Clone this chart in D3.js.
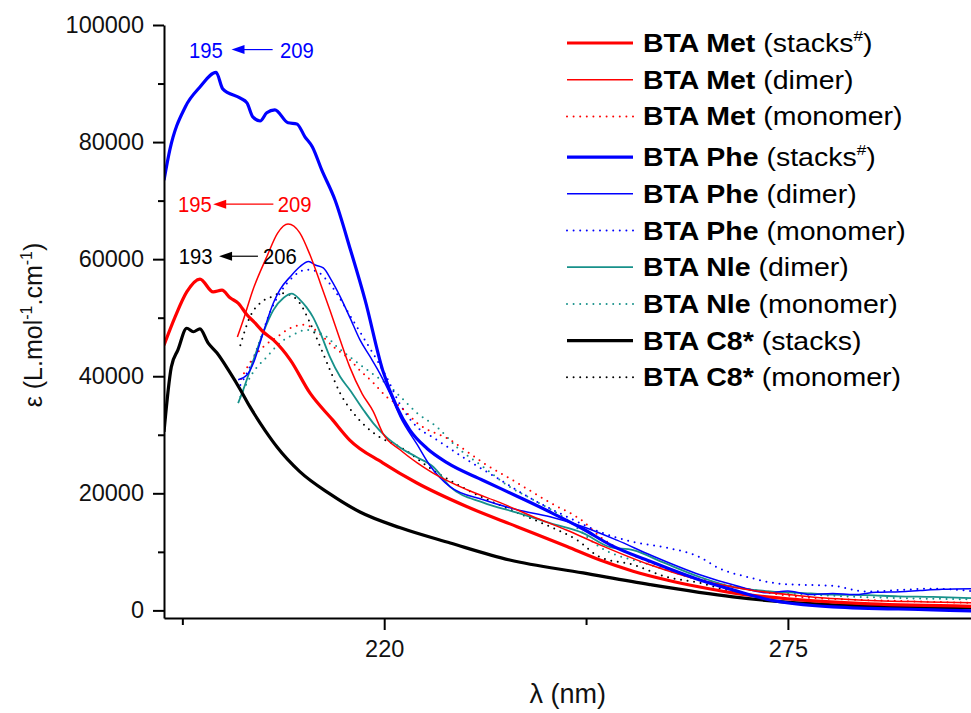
<!DOCTYPE html>
<html>
<head>
<meta charset="utf-8">
<script src="https://cdn.jsdelivr.net/npm/d3@7"></script>
<style>
  body { margin: 0; background: #fff; }
  svg text { font-family: "Liberation Sans", Arial, Helvetica, sans-serif; }
</style>
</head>
<body>
<svg id="chart" width="971" height="713"></svg>
<script>
// ---- Spectra: wavelength (nm) and molar absorptivity (L.mol-1.cm-1) ----
const metStacksNm  = [190, 191.5, 193.1, 194.9, 196.7, 197.9, 199.0, 200.1, 201.3, 202.4, 203.5, 204.9, 207.2, 209.9, 213.0, 215.3, 219.8, 224.4, 231.3, 238.1, 244.9, 249.4, 253.9, 258.5, 263.0, 267.5, 276.6, 286.2, 300];
const metStacksEps = [45300, 50100, 54400, 56600, 54400, 54700, 53400, 52500, 50500, 49100, 47600, 46200, 42800, 37100, 32500, 29100, 25200, 21800, 17700, 14300, 10900, 8600, 6700, 5200, 4000, 3000, 1800, 1100, 700];

const metDimerNm  = [200.0, 200.8, 202.1, 204.0, 205.5, 206.9, 208.5, 209.9, 211.3, 212.6, 214.0, 215.3, 217.0, 218.5, 219.8, 222.2, 224.5, 226.6, 231.3, 235.8, 240.3, 244.9, 249.4, 256.2, 263.0, 269.8, 276.6, 280, 284, 288, 292, 296, 300];
const metDimerEps = [46700, 49600, 54700, 60400, 64500, 66000, 64500, 60700, 55900, 51300, 46200, 41600, 37000, 34000, 30300, 27400, 25200, 23500, 20600, 18400, 16000, 13700, 11200, 7800, 5200, 3500, 2500, 2100, 1800, 1600, 1500, 1400, 1300];

const metMonoNm  = [200.1, 201.7, 203.5, 205.4, 207.2, 209.0, 210.3, 211.7, 213.1, 214.9, 216.7, 218.5, 220.3, 222.2, 224.5, 229.0, 233.5, 238.1, 242.6, 247.1, 249.4, 256.2, 263.0, 269.8, 276.6, 290.3, 300];
const metMonoEps = [38500, 42300, 45000, 46700, 48200, 48800, 48200, 46700, 45000, 43300, 41000, 38900, 36500, 34800, 32000, 29100, 25200, 21800, 18400, 15200, 12600, 8200, 5400, 3600, 2300, 1600, 1300];

const pheStacksNm  = [190, 190.8, 192.9, 194.9, 197.1, 198.0, 200.4, 201.3, 202.1, 203.1, 204.0, 205.1, 206.9, 208.1, 209.2, 210.2, 211.5, 213.3, 215.4, 217.4, 219.8, 221.7, 223.5, 225.8, 228.6, 233.5, 238.1, 242.6, 247.1, 250.8, 256.2, 263.0, 267.5, 272.1, 281.1, 294.8, 300];
const pheStacksEps = [73500, 78700, 86000, 89400, 91900, 89100, 87500, 86700, 84300, 83600, 85000, 85500, 83300, 83100, 80900, 79200, 75200, 70100, 61600, 53000, 41000, 34800, 30800, 27700, 25200, 22200, 19500, 16800, 13900, 11200, 8400, 5200, 3500, 1900, 600, 100, -100];

const pheDimerNm  = [200.1, 201.3, 202.2, 203.5, 204.9, 205.8, 207.2, 208.5, 209.7, 210.6, 211.7, 212.8, 214.0, 215.3, 216.7, 218.1, 219.4, 220.8, 222.2, 224.5, 226.2, 229.0, 233.5, 238.1, 242.6, 247.1, 251.7, 256.2, 263.0, 268.0, 272.2, 275.0, 278.0, 281.1, 284.0, 287.0, 290.3, 293.0, 296.0, 300];
const pheDimerEps = [39400, 40200, 42300, 47400, 52500, 54800, 57000, 58700, 59600, 59000, 58500, 56400, 53600, 50100, 46200, 43300, 40500, 37000, 33000, 28300, 24800, 21100, 18900, 17200, 16000, 14300, 12000, 9500, 6100, 4200, 3000, 3300, 2700, 2900, 2700, 3100, 3200, 3400, 3600, 3700];

const pheMonoNm  = [200.4, 201.7, 203.1, 204.4, 205.8, 207.6, 209.4, 210.8, 212.2, 213.5, 214.9, 216.3, 217.6, 219.0, 220.3, 222.2, 224.5, 226.6, 231.3, 235.8, 240.3, 244.9, 249.4, 253.9, 258.5, 263.0, 265.3, 269.8, 274.3, 281.1, 285.8, 290.3, 294.8, 300];
const pheMonoEps = [38500, 41600, 46200, 50800, 54200, 57000, 58200, 57900, 56400, 54200, 51300, 48400, 45700, 42800, 39900, 35100, 31300, 29600, 25700, 22300, 18900, 16000, 13400, 11700, 10700, 9100, 7400, 5600, 4500, 4200, 3200, 3500, 3700, 3300];

const nleDimerNm  = [200.1, 200.8, 202.2, 203.5, 204.9, 206.3, 207.4, 208.5, 209.4, 210.3, 211.3, 212.6, 214.0, 215.3, 217.2, 218.5, 220.3, 222.2, 224.4, 226.7, 229.0, 233.5, 238.1, 242.6, 247.1, 250.8, 253.9, 258.0, 263.0, 267.5, 272.0, 276.6, 281.0, 285.8, 290.0, 294.8, 300];
const nleDimerEps = [35400, 37700, 42800, 47400, 51300, 53400, 54100, 53100, 51800, 50100, 47400, 43300, 39900, 37700, 34200, 32000, 29600, 27800, 26200, 24500, 21100, 18400, 16700, 14900, 13200, 10800, 10300, 8200, 5700, 4000, 3300, 3000, 2700, 2600, 2400, 2300, 2100];

const nleMonoNm  = [200.4, 202.1, 204.0, 205.8, 207.6, 209.4, 210.8, 212.2, 213.6, 215.3, 217.1, 219.0, 220.8, 222.2, 224.5, 227.2, 229.9, 233.5, 237.1, 240.3, 244.9, 249.4, 256.2, 263.0, 272.2, 281.1, 290.3, 300];
const nleMonoEps = [36500, 40600, 43300, 45700, 47100, 47900, 47600, 46700, 45000, 43300, 41600, 39900, 38200, 36500, 33700, 31300, 27900, 24500, 21100, 18900, 15500, 10800, 7800, 5200, 3200, 2500, 2100, 1900];

const c8StacksNm  = [190, 191.0, 191.9, 193.1, 194.0, 194.9, 196.0, 197.2, 199.0, 200.4, 201.7, 203.1, 204.4, 205.4, 208.5, 212.6, 216.7, 222.2, 229.0, 237.1, 247.1, 256.2, 267.5, 281.1, 300];
const c8StacksEps = [30500, 41600, 44500, 48200, 47600, 48100, 45700, 44000, 40600, 37700, 34800, 32000, 29600, 27900, 23700, 19900, 16800, 14100, 11500, 8600, 6400, 4400, 2300, 940, 430];

const c8MonoNm  = [200.4, 201.7, 203.1, 204.7, 206.0, 207.6, 208.5, 209.9, 211.3, 212.6, 214.0, 215.8, 217.6, 219.4, 222.2, 226.6, 231.3, 238.1, 242.6, 246.3, 249.4, 253.9, 258.5, 263.0, 267.5, 276.6, 300];
const c8MonoEps = [45300, 50100, 52500, 53600, 54200, 53600, 52500, 49100, 45000, 41100, 37100, 33700, 31300, 29600, 27900, 24000, 20600, 16700, 14300, 12000, 9100, 7800, 5700, 4700, 3200, 1800, 600];

// Legend entries (in legend order)
const compounds = ["BTA Met", "BTA Met", "BTA Met", "BTA Phe", "BTA Phe", "BTA Phe", "BTA Nle", "BTA Nle", "BTA C8*", "BTA C8*"];
const states    = ["stacks", "dimer", "monomer", "stacks", "dimer", "monomer", "dimer", "monomer", "stacks", "monomer"];
const stateMarks = ["#", "", "", "#", "", "", "", "", "", ""];

// Peak-shift annotations: from (dimer/monomer) -> to (stacks)
const shiftFrom = ["209", "209", "206"];
const shiftTo   = ["195", "195", "193"];

// Axis ticks
const yMajorTicks = [0, 20000, 40000, 60000, 80000, 100000];
const yMinorTicks = [10000, 30000, 50000, 70000, 90000];
const xMajorTicks = [220, 275];
const xMinorTicks = [192.5, 247.5];

// ---- Drawing ----
const RED = "#ff0000", BLUE = "#0000ff", TEAL = "#17918a", BLACK = "#000000";
const styles = [
  { color: RED,   width: 3.2, dotted: false },
  { color: RED,   width: 1.5, dotted: false },
  { color: RED,   width: 2.0, dotted: true  },
  { color: BLUE,  width: 3.2, dotted: false },
  { color: BLUE,  width: 1.5, dotted: false },
  { color: BLUE,  width: 2.0, dotted: true  },
  { color: TEAL,  width: 1.8, dotted: false },
  { color: TEAL,  width: 2.0, dotted: true  },
  { color: BLACK, width: 3.2, dotted: false },
  { color: BLACK, width: 2.0, dotted: true  }
];
const spectra = [
  [metStacksNm, metStacksEps], [metDimerNm, metDimerEps], [metMonoNm, metMonoEps],
  [pheStacksNm, pheStacksEps], [pheDimerNm, pheDimerEps], [pheMonoNm, pheMonoEps],
  [nleDimerNm, nleDimerEps], [nleMonoNm, nleMonoEps],
  [c8StacksNm, c8StacksEps], [c8MonoNm, c8MonoEps]
];
const series = spectra.map(([nm, eps], i) => ({
  compound: compounds[i], state: states[i], mark: stateMarks[i],
  points: nm.map((w, k) => ({ nm: w, eps: eps[k] })),
  ...styles[i]
}));

const svg = d3.select("#chart");
const x = d3.scaleLinear().domain([190, 300]).range([164, 971.4]);
const y = d3.scaleLinear().domain([-1300, 100000]).range([618, 25]);

const clipId = "plot-clip";
svg.append("defs").append("clipPath").attr("id", clipId)
  .append("rect").attr("x", 164).attr("y", 0).attr("width", 971 - 164).attr("height", 618);

const line = d3.line().x(d => x(d.nm)).y(d => y(d.eps)).curve(d3.curveMonotoneX);

// draw order: dotted monomers first, then dimers, stacks on top
const drawOrder = [9, 7, 5, 2, 6, 4, 1, 8, 0, 3];
svg.append("g").attr("clip-path", `url(#${clipId})`)
  .selectAll("path").data(drawOrder.map(i => series[i])).join("path")
  .attr("d", d => line(d.points))
  .attr("fill", "none")
  .attr("stroke", d => d.color)
  .attr("stroke-width", d => d.width)
  .attr("stroke-linejoin", "round")
  .attr("stroke-linecap", d => d.dotted ? "round" : "butt")
  .attr("stroke-dasharray", d => d.dotted ? "0 6.6" : null);

// Axes
svg.append("g").attr("transform", `translate(${x(190)},0)`)
  .call(d3.axisLeft(y).tickValues(yMajorTicks).tickSize(11).tickSizeOuter(0).tickPadding(9).tickFormat(d3.format("d")));
svg.append("g").attr("transform", `translate(${x(190)},0)`)
  .call(d3.axisLeft(y).tickValues(yMinorTicks).tickSize(6).tickSizeOuter(0).tickFormat(""))
  .select(".domain").remove();
svg.append("g").attr("transform", `translate(0,${y(-1300)})`)
  .call(d3.axisBottom(x).tickValues(xMajorTicks).tickSize(12).tickSizeOuter(0).tickPadding(10));
svg.append("g").attr("transform", `translate(0,${y(-1300)})`)
  .call(d3.axisBottom(x).tickValues(xMinorTicks).tickSize(7).tickSizeOuter(0).tickFormat(""))
  .select(".domain").remove();

svg.selectAll(".domain").attr("stroke", "#000").attr("stroke-width", 2);
svg.selectAll(".tick line").attr("stroke", "#000").attr("stroke-width", 2);
svg.selectAll(".tick text").attr("font-size", "23.5px").attr("fill", "#111")
  .attr("font-family", '"Liberation Sans", Arial, sans-serif');

// Axis titles
svg.append("text")
  .attr("x", (x(190) + x(300)) / 2).attr("y", 703)
  .attr("text-anchor", "middle").attr("font-size", "27px").attr("fill", "#111")
  .text("λ (nm)");

const yTitle = svg.append("text")
  .attr("transform", "translate(42,325) rotate(-90)")
  .attr("text-anchor", "middle").attr("font-size", "25px").attr("fill", "#111");
yTitle.append("tspan").text("ε (L.mol");
yTitle.append("tspan").attr("font-size", "16px").attr("dy", "-10").text("-1");
yTitle.append("tspan").attr("dy", "10").text(".cm");
yTitle.append("tspan").attr("font-size", "16px").attr("dy", "-10").text("-1");
yTitle.append("tspan").attr("dy", "10").text(")");

// Peak-shift arrows, placed in data coordinates
const arrowColors = [BLUE, RED, BLACK];
const arrowEps  = [95800, 69400, 60500];
const arrowTail = [204.8, 204.9, 202.8];
const arrowHead = [199.2, 196.7, 197.5];
const toLabelEnd    = [198.0, 196.5, 196.6];
const fromLabelStart = [205.8, 205.5, 203.5];
const ann = svg.append("g");
arrowColors.forEach((c, i) => {
  const yy = y(arrowEps[i]);
  const xt = x(arrowTail[i]), xh = x(arrowHead[i]);
  ann.append("line").attr("x1", xt).attr("x2", xh + 10).attr("y1", yy).attr("y2", yy)
    .attr("stroke", c).attr("stroke-width", 1.2);
  ann.append("path")
    .attr("d", `M${xh},${yy} L${xh + 13},${yy - 4.5} L${xh + 13},${yy + 4.5} Z`)
    .attr("fill", c);
  ann.append("text")
    .attr("transform", `translate(${x(toLabelEnd[i])},${yy + 8}) scale(0.9,1)`)
    .attr("text-anchor", "end").attr("font-size", "22.5px").attr("fill", c).text(shiftTo[i]);
  ann.append("text")
    .attr("transform", `translate(${x(fromLabelStart[i])},${yy + 8}) scale(0.9,1)`)
    .attr("text-anchor", "start").attr("font-size", "22.5px").attr("fill", c).text(shiftFrom[i]);
});

// Legend
const legend = svg.append("g");
series.forEach((s, i) => {
  const cy = 43 + i * 36.7 + (i >= 3 ? 4 : 0);
  legend.append("line").attr("x1", 567).attr("x2", 633).attr("y1", cy).attr("y2", cy)
    .attr("stroke", s.color).attr("stroke-width", s.width)
    .attr("stroke-linecap", s.dotted ? "round" : "butt")
    .attr("stroke-dasharray", s.dotted ? "0 6.6" : null);
  const t = legend.append("text")
    .attr("transform", `translate(643,${cy + 9}) scale(1.14,1)`)
    .attr("font-size", "25px").attr("fill", "#000");
  t.append("tspan").attr("font-weight", "bold").text(s.compound);
  t.append("tspan").text(" (" + s.state);
  if (s.mark) t.append("tspan").attr("font-size", "15px").attr("dy", "-11").text(s.mark);
  t.append("tspan").attr("dy", s.mark ? "11" : null).text(")");
});
</script>
</body>
</html>
